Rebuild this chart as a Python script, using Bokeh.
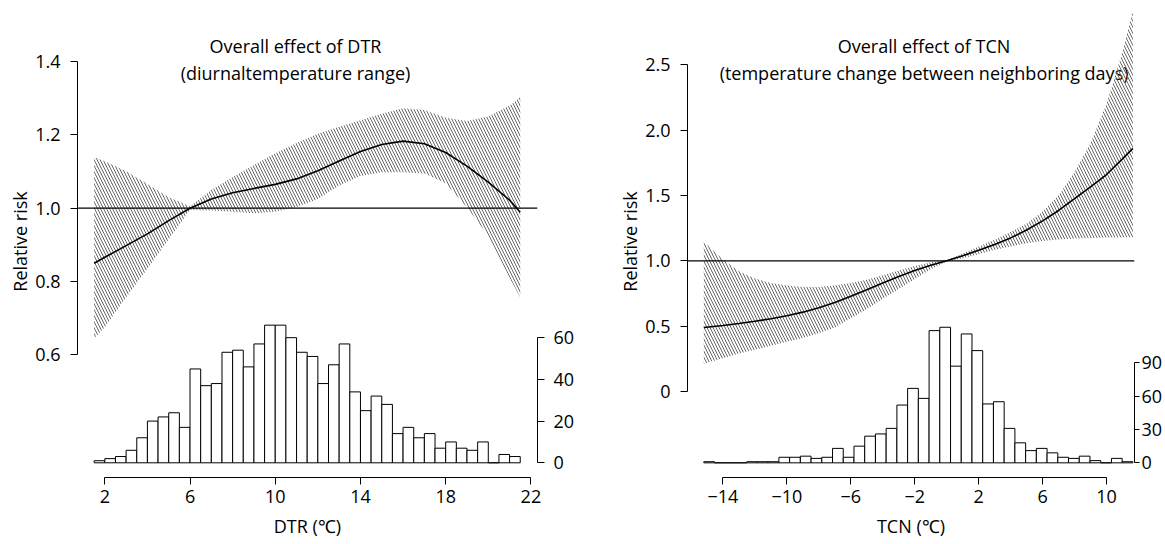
import numpy as np
from bokeh.plotting import figure
from bokeh.layouts import row
from bokeh.models import Range1d, LinearAxis, FixedTicker, Span, Label
from bokeh.embed import file_html
from bokeh.resources import INLINE

# ---------------- data: DTR panel ----------------
dtr_x = [1.5, 2, 3, 4, 5, 6, 7, 8, 9, 10, 11, 12, 13, 14, 15, 16, 17, 18, 19, 20, 21, 21.5]
dtr_fit = [0.850, 0.866, 0.898, 0.930, 0.966, 1.000, 1.025, 1.042, 1.054, 1.065, 1.080,
           1.102, 1.129, 1.155, 1.174, 1.183, 1.176, 1.152, 1.115, 1.071, 1.022, 0.989]
dtr_upper = [1.139, 1.128, 1.101, 1.066, 1.030, 1.005, 1.050, 1.085, 1.118, 1.150, 1.178,
             1.203, 1.222, 1.240, 1.258, 1.273, 1.268, 1.247, 1.238, 1.250, 1.280, 1.303]
dtr_lower = [0.645, 0.675, 0.757, 0.835, 0.915, 0.995, 0.994, 0.990, 0.986, 0.990, 1.003,
             1.025, 1.062, 1.088, 1.098, 1.098, 1.095, 1.068, 1.002, 0.925, 0.810, 0.757]
dtr_hist_counts = [1, 2, 3, 6, 12, 20, 22, 24, 17, 45, 37, 38, 53, 54, 46, 57, 66, 66, 60, 53,
                   51, 38, 47, 57, 34, 25, 32, 28, 14, 17, 12, 14, 7, 10, 7, 6, 10, 0, 4, 3]
dtr_hist_range = (1.5, 21.5)
dtr_rr_ticks = [0.6, 0.8, 1.0, 1.2, 1.4]
dtr_rr_labels = ["0.6", "0.8", "1.0", "1.2", "1.4"]
dtr_x_ticks = [2, 6, 10, 14, 18, 22]
dtr_x_labels = ["2", "6", "10", "14", "18", "22"]
dtr_count_ticks = [0, 20, 40, 60]

# ---------------- data: TCN panel ----------------
tcn_x = [-15.2, -14, -13, -12, -11, -10, -9, -8, -7, -6, -5, -4, -3, -2, -1, 0,
         1, 2, 3, 4, 5, 6, 7, 8, 9, 10, 11, 11.65]
tcn_fit = [0.49, 0.505, 0.52, 0.537, 0.557, 0.58, 0.607, 0.64, 0.68, 0.728, 0.778, 0.83,
           0.88, 0.925, 0.965, 1.0, 1.038, 1.08, 1.125, 1.175, 1.235, 1.305, 1.385, 1.475,
           1.565, 1.66, 1.78, 1.86]
tcn_upper = [1.145, 1.01, 0.92, 0.865, 0.83, 0.81, 0.80, 0.80, 0.81, 0.83, 0.855, 0.89,
             0.925, 0.96, 0.988, 1.005, 1.055, 1.11, 1.16, 1.22, 1.285, 1.375, 1.50, 1.68,
             1.90, 2.20, 2.60, 2.91]
tcn_lower = [0.212, 0.255, 0.29, 0.32, 0.35, 0.38, 0.41, 0.445, 0.49, 0.56, 0.63, 0.71,
             0.785, 0.86, 0.935, 0.995, 1.02, 1.05, 1.085, 1.11, 1.135, 1.152, 1.163, 1.170,
             1.175, 1.178, 1.18, 1.18]
tcn_hist_counts = [1, 0, 0, 0, 1, 1, 1, 5, 5, 6, 4, 5, 13, 5, 15, 24, 26, 31, 52, 67,
                   58, 119, 122, 87, 116, 101, 53, 55, 31, 18, 11, 13, 9, 5, 4, 6, 2, 0, 4, 1]
tcn_hist_range = (-15.2, 11.65)
tcn_rr_ticks = [0, 0.5, 1.0, 1.5, 2.0, 2.5]
tcn_rr_labels = ["0", "0.5", "1.0", "1.5", "2.0", "2.5"]
tcn_x_ticks = [-14, -10, -6, -2, 2, 6, 10]
tcn_x_labels = ["\u221214", "\u221210", "\u22126", "\u22122", "2", "6", "10"]
tcn_count_ticks = [0, 30, 60, 90]

# ---------------- styling ----------------
FONT = "Open Sans"
FS = "18px"
HATCH = "#666666"
# in the SVG output this pattern draws lines rising to the right, as in the original
HATCH_PATTERN = "\\"


def style_axis(ax, label_standoff=8, tick_out=7):
    ax.axis_line_color = "black"
    ax.axis_line_width = 1
    ax.major_tick_line_color = "black"
    ax.major_tick_in = 0
    ax.major_tick_out = tick_out
    ax.minor_tick_line_color = None
    ax.major_label_text_font = FONT
    ax.major_label_text_font_size = FS
    ax.major_label_text_color = "black"
    ax.major_label_standoff = label_standoff
    ax.axis_label_text_font = FONT
    ax.axis_label_text_font_size = FS
    ax.axis_label_text_font_style = "normal"
    ax.axis_label_text_color = "black"


def panel(width, min_right, xr, yr, cr, x, fit, lo, up, counts, hrange,
          rr_ticks, rr_labels, x_ticks, x_labels, c_ticks, xlabel, titles, tpos,
          right_tick_out, right_standoff):
    p = figure(width=width, height=544, x_range=Range1d(*xr), y_range=Range1d(*yr),
               x_axis_type=None, y_axis_type=None, output_backend="svg",
               toolbar_location=None, min_border_left=77, min_border_right=min_right,
               min_border_top=5, min_border_bottom=67)
    p.outline_line_color = None
    p.background_fill_color = "white"
    p.border_fill_color = "white"
    p.extra_y_ranges = {"count": Range1d(*cr)}

    ly = LinearAxis(ticker=FixedTicker(ticks=rr_ticks), bounds=(rr_ticks[0], rr_ticks[-1]),
                    major_label_overrides={t: l for t, l in zip(rr_ticks, rr_labels)},
                    axis_label="Relative risk")
    style_axis(ly, label_standoff=10)
    ly.axis_label_standoff = 0
    p.add_layout(ly, "left")

    bx = LinearAxis(ticker=FixedTicker(ticks=x_ticks), bounds=(x_ticks[0], x_ticks[-1]),
                    major_label_overrides={t: l for t, l in zip(x_ticks, x_labels)},
                    axis_label=xlabel)
    style_axis(bx, label_standoff=5)
    bx.axis_label_standoff = 8
    p.add_layout(bx, "below")

    ry = LinearAxis(y_range_name="count", ticker=FixedTicker(ticks=c_ticks),
                    bounds=(c_ticks[0], c_ticks[-1]))
    style_axis(ry, label_standoff=right_standoff, tick_out=right_tick_out)
    p.add_layout(ry, "right")

    # titles (drawn beneath the glyphs, as in the original)
    for txt, yy in zip(titles, tpos[1]):
        p.add_layout(Label(x=tpos[0], y=yy, text=txt, text_align="center",
                           text_baseline="alphabetic", text_font=FONT, text_font_size=FS,
                           text_color="black", level="underlay"))

    # histogram
    edges = np.linspace(hrange[0], hrange[1], len(counts) + 1)
    p.quad(left=edges[:-1], right=edges[1:], bottom=0, top=counts, y_range_name="count",
           fill_color="white", line_color="black", line_width=1)

    # confidence band (hatched)
    bx_ = list(x) + list(x[::-1])
    by_ = list(up) + list(lo[::-1])
    p.patch(bx_, by_, fill_color=None, line_color=None, hatch_pattern=HATCH_PATTERN,
            hatch_color=HATCH, hatch_scale=6, hatch_weight=1)

    # reference line and fitted curve
    p.add_layout(Span(location=1.0, dimension="width", line_color="black", line_width=1.3))
    p.line(x, fit, line_color="black", line_width=1.6)
    return p


p1 = panel(610, 73, (0.718, 22.31), (0.2652, 1.5531), (-7.05, 219.3),
           dtr_x, dtr_fit, dtr_lower, dtr_upper, dtr_hist_counts, dtr_hist_range,
           dtr_rr_ticks, dtr_rr_labels, dtr_x_ticks, dtr_x_labels, dtr_count_ticks,
           "DTR (\u2103)", ["Overall effect of DTR", "(diurnaltemperature range)"],
           (10.95, (1.442, 1.369)), 7, 9)

p2 = panel(555, 0, (-16.22, 11.75), (-0.658, 2.953), (-13.2, 411.6),
           tcn_x, tcn_fit, tcn_lower, tcn_upper, tcn_hist_counts, tcn_hist_range,
           tcn_rr_ticks, tcn_rr_labels, tcn_x_ticks, tcn_x_labels, tcn_count_ticks,
           "TCN (\u2103)",
           ["Overall effect of TCN", "(temperature change between neighboring days)"],
           (-1.417, (2.642, 2.438)), 5, 2)

layout = row(p1, p2)
open("out.html", "w").write(file_html(layout, INLINE))
